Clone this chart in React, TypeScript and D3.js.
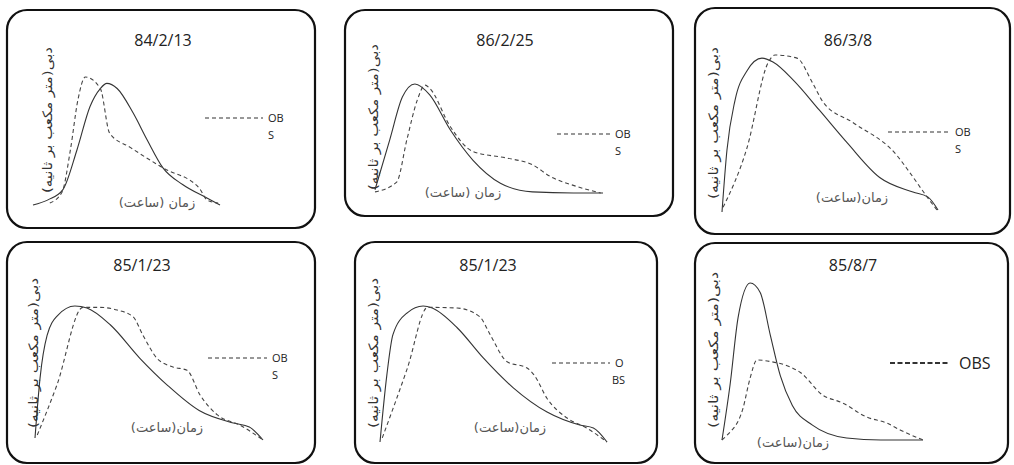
import React from 'react';
import * as d3 from 'd3';

// hydrograph titles (event dates)
const titles = ['84/2/13', '86/2/25', '86/3/8', '85/1/23', '85/1/23', '85/8/7'];
const yLabel = 'دبی(متر مکعب بر ثانیه)';
const xLabels = ['زمان (ساعت)', 'زمان (ساعت)', 'زمان(ساعت)', 'زمان(ساعت)', 'زمان(ساعت)', 'زمان(ساعت)'];
const legendLabels = [['OB', 'S'], ['OB', 'S'], ['OB', 'S'], ['OB', 'S'], ['O', 'BS'], ['OBS']];

// [time %, discharge %]
const sim1 = [[0, 0], [8, 4], [16, 12], [23.5, 43], [30.5, 77], [36, 91], [39.5, 95], [45, 91], [53.5, 72], [61, 51], [69.5, 29], [80, 16], [93, 5.5], [100, 0]];
const obs1 = [[9, 1.5], [15.5, 10], [20, 43], [24, 82], [28, 100], [36, 91], [41, 56], [52, 45], [69.5, 29], [89, 13], [93, 4], [99, 1.5]];
const sim2 = [[0, 3], [6.5, 49], [12, 88], [17.5, 100], [24, 90], [33, 58], [43, 30], [55, 9], [69, 1], [87, 0], [100, 0]];
const obs2 = [[0, 1], [9.5, 10], [14, 49], [18.5, 85], [22, 99], [24, 96], [33, 61], [43, 38], [58, 32], [69, 26], [77, 15], [87, 7], [99, 0]];
const sim3 = [[0, 0], [2.3, 39.5], [6, 71], [11.6, 90], [18.5, 98], [23.6, 95.5], [33, 84], [45, 65], [58, 44], [73, 22], [88.4, 12.7], [95.4, 9.5], [100, 1.3]];
const obs3 = [[0.5, 3], [11.6, 41], [21.3, 95], [24.5, 100], [34.7, 98], [42, 82], [46.8, 70], [60.6, 57], [81, 36], [87, 25], [95, 9.5], [99.5, 1.3]];
const sim4 = [[0, 1.5], [2.2, 46], [5.3, 78], [10, 93], [17.5, 100], [22.8, 98.5], [33, 86], [46, 61], [58, 41], [72, 22], [87, 12.7], [94, 9.7], [100, 0]];
const obs4 = [[1, 3.7], [9.6, 41], [21, 99], [28.5, 99], [36, 97], [43, 92], [47.4, 78], [53.5, 61], [60.5, 54.5], [66.7, 52], [72.4, 33.6], [80, 18.7], [90, 11], [100, 0]];
const sim5 = [[0, 0], [3, 49], [5.7, 79], [12, 95], [19, 100], [23, 98.5], [34, 84], [45.4, 62], [58.6, 40], [73.6, 22], [88, 12.5], [94, 10.3], [100, 0]];
const obs5 = [[1, 3], [12, 54], [21, 99], [34, 98.5], [44, 92], [48.5, 79], [56, 59], [64.8, 54.4], [68, 49], [73.6, 32], [82.4, 17.6], [91, 10.3], [100, 0]];
const sim6 = [[0, 0], [4, 35], [8, 78], [14, 100], [19, 94], [24, 67], [29, 41], [35, 22], [45, 9.5], [62, 1.3], [79, 0], [100, 0]];
const obs6 = [[0, 0], [2.5, 3], [10.4, 20], [14, 39.5], [17.4, 51], [24, 50], [34, 46.5], [39, 43], [50, 28.7], [60, 23.6], [72, 14.6], [82, 10.8], [88.6, 6.4], [100, 0]];

const simSeries = [sim1, sim2, sim3, sim4, sim5, sim6];
const obsSeries = [obs1, obs2, obs3, obs4, obs5, obs6];

// layout: box, plot area, label/legend anchors
const layout = [
  { box: [7, 10, 315, 228], plot: [33, 220, 205, 77], title: [163, 46], yl: [47, 120], ylen: 146, xl: [157, 207], leg: [205, 263, 118], legFont: 11 },
  { box: [345, 10, 673, 216], plot: [375, 603, 193, 84], title: [505, 46], yl: [373, 117], ylen: 146, xl: [463, 197], leg: [557, 610, 134], legFont: 11 },
  { box: [695, 8, 1010, 234], plot: [722, 938, 212, 55], title: [848, 46], yl: [713, 123], ylen: 152, xl: [852, 202], leg: [888, 950, 132], legFont: 11 },
  { box: [7, 242, 315, 463], plot: [35, 263, 440, 306], title: [142, 271], yl: [33, 353], ylen: 150, xl: [167, 432], leg: [208, 267, 358], legFont: 11 },
  { box: [355, 242, 657, 463], plot: [380, 607, 442, 306], title: [488, 271], yl: [373, 353], ylen: 150, xl: [510, 432], leg: [552, 610, 363], legFont: 11 },
  { box: [695, 243, 1008, 463], plot: [722, 923, 440, 283], title: [853, 271], yl: [713, 350], ylen: 156, xl: [793, 447], leg: [890, 950, 363], legFont: 16 },
];

const Panel = ({ i }: { i: number }) => {
  const L = layout[i];
  const [bx0, by0, bx1, by1] = L.box;
  const [px0, px1, py0, py1] = L.plot;
  const x = d3.scaleLinear().domain([0, 100]).range([px0, px1]);
  const y = d3.scaleLinear().domain([0, 100]).range([py0, py1]);
  const line = d3.line<number[]>().x(d => x(d[0])).y(d => y(d[1])).curve(d3.curveMonotoneX);
  const labels = legendLabels[i];
  const big = L.legFont > 12;
  return (
    <g>
      <rect x={bx0} y={by0} width={bx1 - bx0} height={by1 - by0} rx={20} ry={20}
        fill="#fff" stroke="#111" strokeWidth={2.2} />
      <text x={L.title[0]} y={L.title[1]} textAnchor="middle" fontFamily="'Open Sans', sans-serif"
        fontSize={16} fill="#222">{titles[i]}</text>
      <text transform={`translate(${L.yl[0]},${L.yl[1]}) rotate(-90)`} textAnchor="middle" direction="rtl"
        fontFamily="'DejaVu Sans', sans-serif" fontSize={13} fill="#333" dy="0.35em"
        textLength={L.ylen} lengthAdjust="spacingAndGlyphs">{yLabel}</text>
      <text x={L.xl[0]} y={L.xl[1]} textAnchor="middle" direction="rtl"
        fontFamily="'DejaVu Sans', sans-serif" fontSize={13} fill="#555">{xLabels[i]}</text>
      <path d={line(simSeries[i]) || ''} fill="none" stroke="#333" strokeWidth={1.1} />
      <path d={line(obsSeries[i]) || ''} fill="none" stroke="#444" strokeWidth={1.1} strokeDasharray="4,3" />
      <line x1={L.leg[0]} x2={L.leg[1]} y1={L.leg[2]} y2={L.leg[2]} stroke="#333"
        strokeWidth={big ? 1.8 : 1.1} strokeDasharray={big ? '5,2.5' : '4,3'} />
      {labels.map((t, k) => (
        <text key={k} x={L.leg[1] + (big ? 9 : 5) + (k === 1 && labels[0] === 'O' ? -3 : 0)}
          y={L.leg[2] + k * 17} dy="0.35em" fontFamily="'Open Sans', sans-serif"
          fontSize={L.legFont} fill="#222">{t}</text>
      ))}
    </g>
  );
};

export default function App() {
  return (
    <svg width={1014} height={465} style={{ position: 'absolute', left: 0, top: 0, background: '#fff' }}>
      {titles.map((_, i) => <Panel key={i} i={i} />)}
    </svg>
  );
}
